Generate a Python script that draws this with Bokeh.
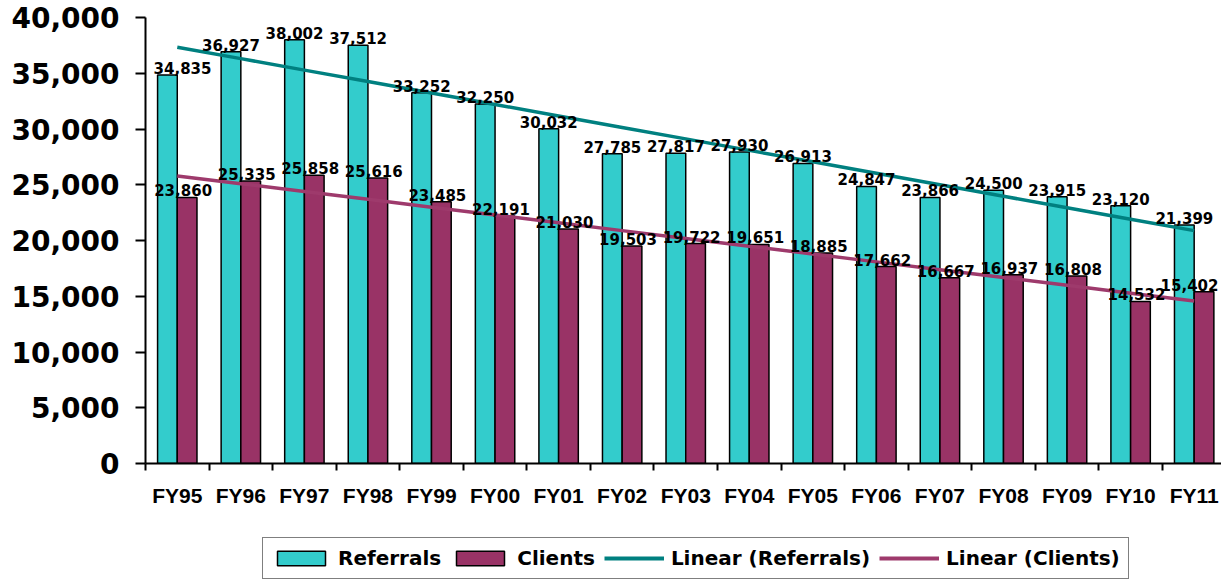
import numpy as np
from bokeh.plotting import figure
from bokeh.layouts import column
from bokeh.models import FixedTicker, NumeralTickFormatter, Legend, LegendItem, Range1d
from bokeh.core.properties import value
from bokeh.embed import file_html
from bokeh.resources import INLINE

years = ["FY95", "FY96", "FY97", "FY98", "FY99", "FY00", "FY01", "FY02", "FY03",
         "FY04", "FY05", "FY06", "FY07", "FY08", "FY09", "FY10", "FY11"]
referrals = [34835, 36927, 38002, 37512, 33252, 32250, 30032, 27785, 27817,
             27930, 26913, 24847, 23866, 24500, 23915, 23120, 21399]
clients = [23860, 25335, 25858, 25616, 23485, 22191, 21030, 19503, 19722,
           19651, 18885, 17662, 16667, 16937, 16808, 14532, 15402]
y_ticks = [0, 5000, 10000, 15000, 20000, 25000, 30000, 35000, 40000]

REF_COLOR = "#33CCCC"
CLI_COLOR = "#993366"
REF_TREND = "#008080"
CLI_TREND = "#9E3A6C"

W, H_MAIN, H_LEG = 1221, 530, 50
FL, FT, FB = 145, 17, 463          # frame left / top / bottom (px)
X0, X1 = -0.5, 16.43
x = np.arange(len(years))
w = 0.31

p = figure(width=W, height=H_MAIN, output_backend="svg", toolbar_location=None,
           x_range=Range1d(X0, X1), y_range=Range1d(0, 40000),
           min_border_left=FL, min_border_right=0, min_border_top=FT,
           min_border_bottom=H_MAIN - FB)
p.outline_line_color = None
p.xgrid.visible = False
p.ygrid.visible = False

r_ref = p.vbar(x=x - w / 2, top=referrals, width=w, fill_color=REF_COLOR,
               line_color="black", line_width=1.5)
r_cli = p.vbar(x=x + w / 2, top=clients, width=w, fill_color=CLI_COLOR,
               line_color="black", line_width=1.5)

# linear trend lines (least squares fit, as in the spreadsheet)
a_r, b_r = np.polyfit(x, referrals, 1)
a_c, b_c = np.polyfit(x, clients, 1)
t_ref = p.line(x, a_r * x + b_r, line_color=REF_TREND, line_width=3.5)
t_cli = p.line(x, a_c * x + b_c, line_color=CLI_TREND, line_width=3.5)

# keep data labels inside the plot area (like the spreadsheet does)
scale = (W - FL) / (X1 - X0)
HALF = 29


def edge_offsets(xs, base):
    out = []
    for xv in xs:
        c = FL + (xv - X0) * scale + base
        off = base
        if c - HALF < FL + 8:
            off += FL + 8 - (c - HALF)
        if c + HALF > W - 3:
            off -= (c + HALF) - (W - 3)
        out.append(off)
    return out


lab_font = value("DejaVu Sans")
p.text(x=x - w / 2, y=referrals, text=[f"{v:,}" for v in referrals],
       text_align="center", text_baseline="alphabetic", y_offset=-7,
       x_offset=edge_offsets(x - w / 2, 0),
       text_font=lab_font, text_font_style="bold", text_font_size="15px",
       text_color="black")
p.text(x=x + w / 2, y=clients, text=[f"{v:,}" for v in clients],
       text_align="center", text_baseline="alphabetic", y_offset=-7,
       x_offset=edge_offsets(x + w / 2, -4),
       text_font=lab_font, text_font_style="bold", text_font_size="15px",
       text_color="black")

# axes
xa = p.xaxis[0]
xa.ticker = FixedTicker(ticks=list(range(len(years))),
                        minor_ticks=[i - 0.5 for i in range(len(years) + 1)])
xa.major_label_overrides = {i: y for i, y in enumerate(years)}
xa.major_tick_line_color = None
xa.major_tick_out = 0
xa.major_tick_in = 0
xa.minor_tick_out = 7
xa.minor_tick_in = 0
xa.minor_tick_line_color = "black"
xa.minor_tick_line_width = 2
xa.axis_line_width = 2
xa.axis_line_color = "black"
xa.major_label_standoff = 13
xa.major_label_text_font = "Liberation Sans"
xa.major_label_text_font_style = "bold"
xa.major_label_text_font_size = "21px"
xa.major_label_text_color = "black"

ya = p.yaxis[0]
ya.ticker = FixedTicker(ticks=y_ticks, minor_ticks=[])
ya.formatter = NumeralTickFormatter(format="0,0")
ya.major_tick_out = 10
ya.major_tick_in = 0
ya.major_tick_line_width = 2
ya.major_tick_line_color = "black"
ya.minor_tick_line_color = None
ya.axis_line_width = 2
ya.axis_line_color = "black"
ya.major_label_standoff = 16
ya.major_label_text_font = "DejaVu Sans"
ya.major_label_text_font_style = "bold"
ya.major_label_text_font_size = "28px"
ya.major_label_text_color = "black"

# legend strip below the chart (its frame is aligned with the chart's frame)
pl = figure(width=W, height=H_LEG, output_backend="svg", toolbar_location=None,
            x_range=Range1d(0, 1), y_range=Range1d(0, 1), min_border=0)
pl.axis.visible = False
pl.grid.visible = False
pl.outline_line_color = None
# legend-only renderers (no drawable data)
nan = float("nan")
lg_ref = pl.vbar(x=[nan], top=[nan], width=0.1, fill_color=REF_COLOR,
                 line_color="black", line_width=1.5)
lg_cli = pl.vbar(x=[nan], top=[nan], width=0.1, fill_color=CLI_COLOR,
                 line_color="black", line_width=1.5)
lg_tr = pl.line(x=[nan, nan], y=[nan, nan], line_color=REF_TREND, line_width=4)
lg_tc = pl.line(x=[nan, nan], y=[nan, nan], line_color=CLI_TREND, line_width=4)

legend = Legend(items=[
    LegendItem(label="Referrals", renderers=[lg_ref]),
    LegendItem(label="Clients", renderers=[lg_cli]),
    LegendItem(label="Linear (Referrals)", renderers=[lg_tr]),
    LegendItem(label="Linear (Clients)", renderers=[lg_tc]),
], orientation="horizontal", location=(262 - FL, 1))
legend.glyph_width = 60
legend.glyph_height = 18
legend.label_standoff = 7
legend.spacing = 9
legend.padding = 8
legend.margin = 0
legend.border_line_color = "black"
legend.border_line_width = 1.5
legend.background_fill_color = "white"
legend.background_fill_alpha = 1
legend.label_text_font = "DejaVu Sans"
legend.label_text_font_style = "bold"
legend.label_text_font_size = "20px"
legend.label_text_color = "black"
pl.add_layout(legend, "center")

layout = column(p, pl, spacing=0)
open("out.html", "w").write(file_html(layout, INLINE))
